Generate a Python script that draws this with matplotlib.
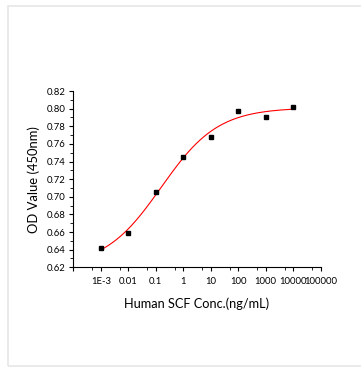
import matplotlib
matplotlib.use("Agg")
import matplotlib.pyplot as plt
import numpy as np
from matplotlib.patches import Rectangle
from matplotlib.ticker import FixedLocator, FixedFormatter

plt.rcParams['font.family'] = ['Lato', 'DejaVu Sans']

# data
conc = [1e-3, 0.01, 0.1, 1, 10, 100, 1000, 10000]
od = [0.6418, 0.6592, 0.7051, 0.7454, 0.7677, 0.7977, 0.7906, 0.8019]

tick_pos = [1e-4, 1e-3, 0.01, 0.1, 1, 10, 100, 1000, 10000, 100000]
tick_lab = ['', '1E-3', '0.01', '0.1', '1', '10', '100', '1000', '10000', '100000']
minor_pos = [5e-4, 5e-3, 0.05, 0.5, 5, 50, 500, 5000, 50000]


def logistic(lx, c, p, lo, hi):
    return lo + (hi - lo) / (1 + 10 ** ((c - lx) * p))


# 4PL fit of the points: grid over centre/slope, linear solve for bottom/top
lx = np.log10(conc)
y = np.array(od)
best = None
for c in np.linspace(-2.5, 1.5, 201):
    for p in np.linspace(0.2, 1.5, 131):
        f = 1 / (1 + 10 ** ((c - lx) * p))
        A = np.column_stack([1 - f, f])
        sol, *_ = np.linalg.lstsq(A, y, rcond=None)
        err = np.sum((A @ sol - y) ** 2)
        if best is None or err < best[0]:
            best = (err, c, p, sol[0], sol[1])
_, c, p, lo, hi = best

xs = np.logspace(-3, 4, 300)
ys = logistic(np.log10(xs), c, p, lo, hi)

fig = plt.figure(figsize=(3.61, 3.68), dpi=100)
fig.patches.append(Rectangle((7.5 / 361, 2 / 368), 1.2, 360.5 / 368,
                             transform=fig.transFigure, fill=False,
                             edgecolor='#e6e6e6', linewidth=1.2))
ax = fig.add_axes([0.203, 0.2736, 0.685, 0.4791])

ax.plot(xs, ys, color='red', lw=0.8, zorder=2)
ax.plot(conc, od, 's', color='black', ms=3.4, zorder=3, clip_on=False)

ax.set_xscale('log')
ax.set_xlim(1e-4, 1e5)
ax.set_ylim(0.62, 0.82)
ax.xaxis.set_major_locator(FixedLocator(tick_pos))
ax.xaxis.set_major_formatter(FixedFormatter(tick_lab))
ax.xaxis.set_minor_locator(FixedLocator(minor_pos))
ax.xaxis.set_minor_formatter(FixedFormatter([''] * len(minor_pos)))
ax.set_yticks(np.arange(0.62, 0.821, 0.02))
ax.set_yticks(np.arange(0.63, 0.82, 0.02), minor=True)
ax.set_yticklabels(['%.2f' % v for v in np.arange(0.62, 0.821, 0.02)])

ax.spines['top'].set_visible(False)
ax.spines['right'].set_visible(False)
for s in ['left', 'bottom']:
    ax.spines[s].set_linewidth(0.8)
ax.tick_params(which='major', length=3, width=0.8, labelsize=6.8)
ax.tick_params(which='minor', length=2, width=0.6)
ax.tick_params(axis='y', pad=2.5)
ax.tick_params(axis='x', pad=4)

ax.set_xlabel('Human SCF Conc.(ng/mL)', fontsize=9.2, labelpad=8)
ax.set_ylabel('OD Value (450nm)', fontsize=9.4, labelpad=5)

fig.savefig('out.png', dpi=100)
